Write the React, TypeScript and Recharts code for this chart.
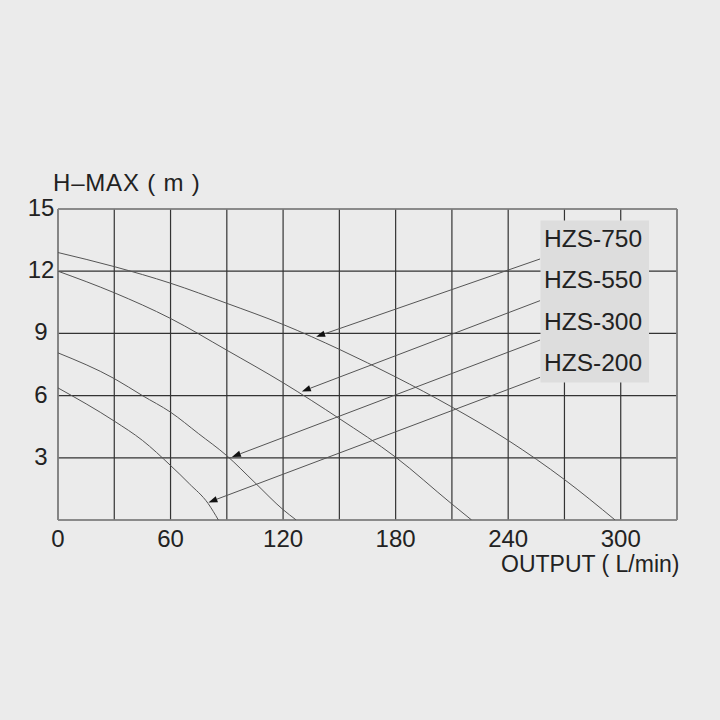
import React from "react";
import {
  LineChart,
  Line,
  XAxis,
  YAxis,
  CartesianGrid,
  ReferenceLine,
} from "recharts";

// 펌프 성능 곡선 (양정 vs 토출량)
const flowTicks = [0, 30, 60, 90, 120, 150, 180, 210, 240, 270, 300, 330];
const flowLabels = [0, 60, 120, 180, 240, 300];
const headTicks = [0, 3, 6, 9, 12, 15];
const headLabels = [3, 6, 9, 12, 15];

const modelNames = ["HZS-750", "HZS-550", "HZS-300", "HZS-200"];

const hzs750Flow = [0, 30, 60, 90, 120, 150, 180, 210, 240, 270, 297];
const hzs750Head = [12.9, 12.22, 11.42, 10.45, 9.43, 8.23, 6.9, 5.45, 3.84, 1.95, 0];

const hzs550Flow = [0, 30, 60, 90, 120, 150, 180, 210, 220.5];
const hzs550Head = [12.0, 10.96, 9.72, 8.19, 6.62, 4.89, 3.03, 0.77, 0];

const hzs300Flow = [0, 30, 45, 60, 75, 90, 105, 120, 127];
const hzs300Head = [8.06, 6.82, 6.0, 5.2, 4.16, 3.1, 1.8, 0.5, 0];

const hzs200Flow = [0, 30, 45, 60, 70, 80, 85.5];
const hzs200Head = [6.37, 4.77, 3.84, 2.63, 1.75, 0.8, 0];

// 범례에서 곡선으로 가는 화살표 (유량, 양정)
const arrowTailFlow = [257, 257, 257, 257];
const arrowTailHead = [12.59, 10.58, 8.68, 6.88];
const arrowTipFlow = [137.6, 130, 92.7, 80.2];
const arrowTipHead = [8.84, 6.2, 3.04, 0.85];

const toPoints = (flow: number[], head: number[]) =>
  flow.map((f, i) => ({ flow: f, head: head[i] }));

const curves = [
  toPoints(hzs750Flow, hzs750Head),
  toPoints(hzs550Flow, hzs550Head),
  toPoints(hzs300Flow, hzs300Head),
  toPoints(hzs200Flow, hzs200Head),
];

const FONT = "'Liberation Sans', Arial, sans-serif";
const TEXT = "#222";

const ArrowShape = (props: any) => {
  const { x1, y1, x2, y2 } = props;
  const ang = Math.atan2(y2 - y1, x2 - x1);
  const len = 9;
  const half = 3.2;
  const bx = x2 - len * Math.cos(ang);
  const by = y2 - len * Math.sin(ang);
  const px = -Math.sin(ang) * half;
  const py = Math.cos(ang) * half;
  return (
    <g>
      <line x1={x1} y1={y1} x2={bx} y2={by} stroke="#555" strokeWidth={1} />
      <polygon
        points={`${x2},${y2} ${bx + px},${by + py} ${bx - px},${by - py}`}
        fill="#111"
      />
    </g>
  );
};

const XTick = (props: any) => {
  const { x, y, payload } = props;
  if (!flowLabels.includes(payload.value)) return null;
  return (
    <text x={x} y={y + 27} textAnchor="middle" fontSize={24} fontFamily={FONT} fill={TEXT}>
      {payload.value}
    </text>
  );
};

const YTick = (props: any) => {
  const { x, y, payload } = props;
  if (!headLabels.includes(payload.value)) return null;
  return (
    <text x={x - 17} y={y + 7} textAnchor="middle" fontSize={24} fontFamily={FONT} fill={TEXT}>
      {payload.value}
    </text>
  );
};

export default function App() {
  return (
    <div
      style={{
        position: "absolute",
        left: 0,
        top: 0,
        width: 720,
        height: 720,
        background: "#ebebeb",
        overflow: "hidden",
      }}
    >
      <LineChart
        width={720}
        height={720}
        margin={{ top: 209, right: 43, bottom: 170, left: 8 }}
      >
        <CartesianGrid stroke="#333" strokeWidth={1.2} />
        <XAxis
          type="number"
          dataKey="flow"
          domain={[0, 330]}
          ticks={flowTicks}
          height={30}
          axisLine={false}
          tickLine={false}
          tickSize={0}
          tickMargin={0}
          tick={<XTick />}
          allowDataOverflow
        />
        <YAxis
          type="number"
          dataKey="head"
          domain={[0, 15]}
          ticks={headTicks}
          width={50}
          axisLine={false}
          tickLine={false}
          tickSize={0}
          tickMargin={0}
          tick={<YTick />}
          allowDataOverflow
        />
        <ReferenceLine x={0} stroke="#888" strokeWidth={1.6} />
        <ReferenceLine x={330} stroke="#888" strokeWidth={1.6} />
        <ReferenceLine y={0} stroke="#888" strokeWidth={1.6} />
        <ReferenceLine y={15} stroke="#888" strokeWidth={1.6} />
        {curves.map((pts, i) => (
          <Line
            key={modelNames[i]}
            data={pts}
            dataKey="head"
            type="monotone"
            stroke="#555"
            strokeWidth={1}
            dot={false}
            activeDot={false}
            isAnimationActive={false}
          />
        ))}
        {modelNames.map((name, i) => (
          <ReferenceLine
            key={"arrow-" + name}
            segment={[
              { x: arrowTailFlow[i], y: arrowTailHead[i] },
              { x: arrowTipFlow[i], y: arrowTipHead[i] },
            ]}
            shape={ArrowShape}
          />
        ))}
      </LineChart>
      <svg
        width={720}
        height={720}
        style={{ position: "absolute", left: 0, top: 0, pointerEvents: "none" }}
      >
        <text x={53} y={191} fontSize={24} letterSpacing={0.8} fontFamily={FONT} fill={TEXT}>
          H–MAX ( m )
        </text>
        <text x={501} y={572} fontSize={23} fontFamily={FONT} fill={TEXT}>
          OUTPUT ( L/min)
        </text>
        <rect x={540.5} y={220.5} width={108.5} height={162} fill="#dddddd" />
        {modelNames.map((name, i) => (
          <text
            key={name}
            x={544}
            y={247 + i * 41.3}
            fontSize={24.5}
            fontFamily={FONT}
            fill={TEXT}
          >
            {name}
          </text>
        ))}
      </svg>
    </div>
  );
}
